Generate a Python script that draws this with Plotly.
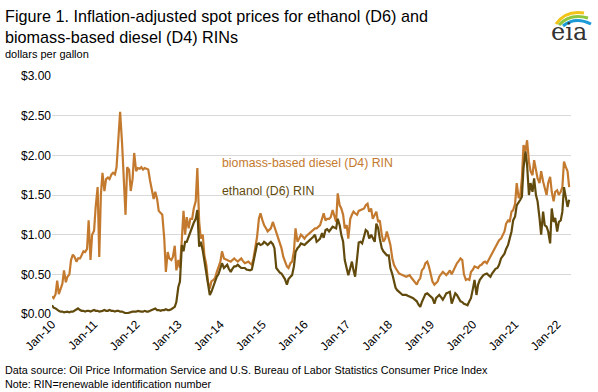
import pandas as pd
import plotly.graph_objects as go

# Semi-monthly observations, Jan 2010 - Apr 2022 (real dollars per gallon)
start_date = "2010-01-01"
n_points = 296

d4_rin = [
    0.22, 0.20, 0.25, 0.42, 0.25, 0.32, 0.38, 0.55, 0.40, 0.47,
    0.50, 0.68, 0.75, 0.72, 0.66, 0.70, 0.70, 0.74, 0.79, 0.78,
    0.82, 1.18, 0.68, 1.00, 1.05, 1.35, 1.60, 0.72, 1.50, 1.78,
    1.55, 1.70, 1.72, 1.70, 1.76, 1.78, 1.76, 1.85, 2.30, 2.55,
    2.15, 1.75, 1.25, 1.85, 1.82, 1.55, 1.70, 2.03, 1.80, 1.84,
    1.83, 1.85, 1.82, 1.84, 1.83, 1.82, 1.68, 1.58, 1.45, 1.54,
    1.45, 1.30, 1.27, 1.25, 0.95, 0.53, 0.78, 0.70, 0.68, 0.72,
    0.86, 0.55, 0.68, 0.58, 0.95, 1.30, 1.00, 1.22, 1.08, 1.20,
    1.20, 1.33, 1.42, 1.84, 1.16, 0.95, 1.00, 0.74, 0.62, 0.41,
    0.32, 0.41, 0.43, 0.45, 0.53, 0.58, 0.66, 0.79, 0.70, 0.69,
    0.68, 0.67, 0.66, 0.68, 0.70, 0.68, 0.66, 0.68, 0.70, 0.67,
    0.64, 0.65, 0.66, 0.64, 0.62, 0.70, 0.85, 0.97, 1.20, 1.27,
    1.18, 1.12, 1.08, 1.04, 1.06, 1.08, 1.16, 1.10, 1.02, 0.95,
    0.88, 0.83, 0.72, 0.66, 0.60, 0.58, 0.64, 0.66, 0.79, 1.08,
    0.91, 0.95, 1.00, 0.98, 0.95, 0.98, 1.00, 1.02, 1.04, 1.06,
    1.08, 1.08, 1.10, 1.12, 1.20, 1.27, 1.18, 1.20, 1.20, 1.22,
    1.31, 1.25, 1.16, 1.52, 1.37, 1.33, 1.25, 1.08, 1.12, 0.95,
    1.20, 1.25, 1.29, 1.27, 1.25, 1.30, 1.31, 1.32, 1.33, 1.37,
    1.39, 1.29, 1.33, 1.20, 1.25, 1.29, 1.16, 1.18, 1.00, 0.91,
    0.95, 1.04, 0.95, 0.87, 0.70, 0.62, 0.58, 0.55, 0.51, 0.50,
    0.49, 0.48, 0.47, 0.48, 0.49, 0.46, 0.43, 0.40, 0.37, 0.42,
    0.45, 0.55, 0.58, 0.64, 0.66, 0.60, 0.50, 0.41, 0.37, 0.39,
    0.41, 0.47, 0.50, 0.53, 0.51, 0.49, 0.52, 0.55, 0.50, 0.55,
    0.60, 0.64, 0.67, 0.70, 0.68, 0.50, 0.43, 0.44, 0.43, 0.53,
    0.56, 0.60, 0.59, 0.58, 0.61, 0.62, 0.65, 0.66, 0.64, 0.68,
    0.72, 0.76, 0.81, 0.85, 0.89, 0.93, 0.95, 1.00, 1.04, 1.14,
    1.18, 1.16, 1.29, 1.31, 1.39, 1.65, 1.46, 1.50, 1.71, 2.13,
    2.05, 2.19, 1.92, 1.80, 1.75, 1.94, 1.80, 1.71, 1.65, 1.80,
    1.67, 1.58, 1.50, 1.65, 1.73, 1.54, 1.42, 1.54, 1.56, 1.50,
    1.54, 1.60, 1.92, 1.86, 1.80, 1.60,
]

d6_rin = [
    0.11, 0.08, 0.07, 0.05, 0.04, 0.03, 0.03, 0.02, 0.03, 0.03,
    0.02, 0.03, 0.03, 0.04, 0.05, 0.07, 0.05, 0.04, 0.04, 0.03,
    0.04, 0.04, 0.03, 0.04, 0.05, 0.04, 0.04, 0.03, 0.04, 0.04,
    0.05, 0.04, 0.04, 0.05, 0.04, 0.04, 0.03, 0.04, 0.04, 0.03,
    0.03, 0.02, 0.01, 0.01, 0.02, 0.03, 0.03, 0.03, 0.03, 0.04,
    0.03, 0.03, 0.03, 0.04, 0.03, 0.03, 0.04, 0.05, 0.07, 0.07,
    0.05, 0.05, 0.04, 0.05, 0.05, 0.06, 0.05, 0.05, 0.06, 0.07,
    0.09, 0.15, 0.34, 0.41, 0.87, 0.79, 0.91, 0.91, 0.98, 1.04,
    1.08, 1.15, 1.20, 1.31, 0.85, 0.91, 0.80, 0.66, 0.50, 0.41,
    0.24, 0.28, 0.35, 0.41, 0.47, 0.50, 0.58, 0.64, 0.58, 0.60,
    0.62, 0.57, 0.53, 0.57, 0.60, 0.60, 0.62, 0.60, 0.58, 0.58,
    0.58, 0.56, 0.55, 0.55, 0.56, 0.66, 0.80, 0.88, 0.89, 0.87,
    0.88, 0.91, 0.89, 0.87, 0.89, 0.91, 0.88, 0.83, 0.58, 0.55,
    0.52, 0.51, 0.47, 0.44, 0.37, 0.44, 0.47, 0.49, 0.60, 0.78,
    0.83, 0.85, 0.89, 0.88, 0.87, 0.89, 0.91, 0.93, 0.95, 0.97,
    1.00, 0.91, 0.93, 0.95, 1.02, 0.96, 1.06, 1.07, 1.04, 1.07,
    1.10, 1.09, 1.08, 1.20, 1.12, 1.00, 0.91, 0.68, 0.58, 0.49,
    0.58, 0.66, 0.55, 0.47, 0.70, 0.90, 0.91, 0.89, 0.98, 1.06,
    1.04, 0.95, 1.00, 0.95, 0.91, 1.14, 1.08, 0.95, 0.83, 0.79,
    0.76, 0.74, 0.74, 0.58, 0.50, 0.42, 0.33, 0.30, 0.28, 0.26,
    0.24, 0.24, 0.24, 0.23, 0.22, 0.21, 0.20, 0.18, 0.16, 0.12,
    0.09, 0.15, 0.20, 0.25, 0.26, 0.24, 0.22, 0.20, 0.13, 0.20,
    0.22, 0.24, 0.21, 0.18, 0.22, 0.26, 0.27, 0.28, 0.13, 0.20,
    0.26, 0.24, 0.20, 0.16, 0.15, 0.13, 0.12, 0.11, 0.16, 0.20,
    0.32, 0.43, 0.24, 0.37, 0.43, 0.46, 0.49, 0.50, 0.51, 0.49,
    0.47, 0.51, 0.55, 0.57, 0.58, 0.62, 0.70, 0.73, 0.76, 0.82,
    0.87, 0.95, 1.04, 1.18, 1.23, 1.37, 1.42, 1.44, 1.48, 1.84,
    2.05, 1.88, 1.50, 1.65, 1.54, 1.71, 1.50, 1.42, 1.21, 1.00,
    1.29, 1.12, 1.10, 1.04, 0.89, 1.33, 1.16, 1.21, 1.04, 1.16,
    1.18, 1.29, 1.60, 1.50, 1.35, 1.44,
]

y_tick_vals = [0, 0.5, 1.0, 1.5, 2.0, 2.5, 3.0]
y_tick_text = ["$0.00", "$0.50", "$1.00", "$1.50", "$2.00", "$2.50", "$3.00"]
x_tick_years = list(range(2010, 2023))
x_tick_text = ["Jan-%02d" % (y % 100) for y in x_tick_years]

dates = pd.date_range(start_date, periods=n_points, freq="SMS")

D4_COLOR = "#c47a2e"
D6_COLOR = "#614a0c"
FONT = "Liberation Sans, Arial, sans-serif"

W, H = 598, 392
ML, MR, MT, MB = 52, 27, 76, 78
PW, PH = W - ML - MR, H - MT - MB

def px_x(v):
    return (v - ML) / PW

def px_y(v):
    return (H - MB - v) / PH

fig = go.Figure()
fig.add_trace(go.Scatter(x=dates, y=d4_rin, mode="lines",
                         line=dict(color=D4_COLOR, width=2.2),
                         name="biomass-based diesel (D4) RIN"))
fig.add_trace(go.Scatter(x=dates, y=d6_rin, mode="lines",
                         line=dict(color=D6_COLOR, width=2.2),
                         name="ethanol (D6) RIN"))

fig.update_layout(
    width=W, height=H,
    margin=dict(l=ML, r=MR, t=MT, b=MB, autoexpand=False),
    paper_bgcolor="white", plot_bgcolor="white",
    showlegend=False,
    font=dict(family=FONT, color="#000000"),
    xaxis=dict(
        type="date",
        range=["2010-01-01", "2022-05-01"],
        tickvals=[pd.Timestamp(f"{y}-01-01") for y in x_tick_years],
        ticktext=x_tick_text,
        tickangle=-45,
        tickfont=dict(size=12, color="#000000"),
        showgrid=False, zeroline=False, showline=False,
        ticks="", automargin=False,
    ),
    yaxis=dict(
        range=[0, 3.0],
        tickvals=y_tick_vals,
        ticktext=y_tick_text,
        tickfont=dict(size=12, color="#000000"),
        showgrid=True, gridcolor="#d9d9d9", gridwidth=1,
        zeroline=False, showline=False, ticks="", automargin=False,
    ),
)

def add_text(text, x, y, size, color=None, xanchor="left", yanchor="top", family=FONT):
    fig.add_annotation(text=text, xref="paper", yref="paper", x=px_x(x), y=px_y(y),
                       xanchor=xanchor, yanchor=yanchor, showarrow=False, align="left",
                       font=dict(size=size, color=color or "#000000", family=family))

add_text("Figure 1. Inflation-adjusted spot prices for ethanol (D6) and<br>biomass-based diesel (D4) RINs",
         3, 5, 16.2)
add_text("dollars per gallon", 3, 46, 11)
add_text("Data source: Oil Price Information Service and U.S. Bureau of Labor Statistics Consumer Price Index",
         3, 362, 10.8)
add_text("Note: RIN=renewable identification number", 3, 376, 10.8)

# series labels
add_text("biomass-based diesel (D4) RIN", 220, 163, 12.3, D4_COLOR, yanchor="middle")
add_text("ethanol (D6) RIN", 220, 191, 12.3, D6_COLOR, yanchor="middle")

# eia logo
add_text("eia", 569, 32, 24, "#333333", xanchor="center", yanchor="middle",
         family="DejaVu Serif, Liberation Serif, serif")
arcs = [
    ([(556, 24), (566, 10), (584, 13)], "#f2c318"),
    ([(559, 25), (570, 13), (588, 18)], "#8dc63f"),
    ([(563, 26), (575, 16), (591, 24)], "#1a9ad6"),
]
for pts, col in arcs:
    (x0, y0), (x1, y1), (x2, y2) = pts
    path = (f"M {px_x(x0):.5f},{px_y(y0):.5f} Q {px_x(x1):.5f},{px_y(y1):.5f} "
            f"{px_x(x2):.5f},{px_y(y2):.5f}")
    fig.add_shape(type="path", path=path, xref="paper", yref="paper",
                  line=dict(color=col, width=3))

fig.write_html("out.html", config={"displayModeBar": False},
               post_script="document.body.style.margin='0';document.body.style.overflow='hidden';")
